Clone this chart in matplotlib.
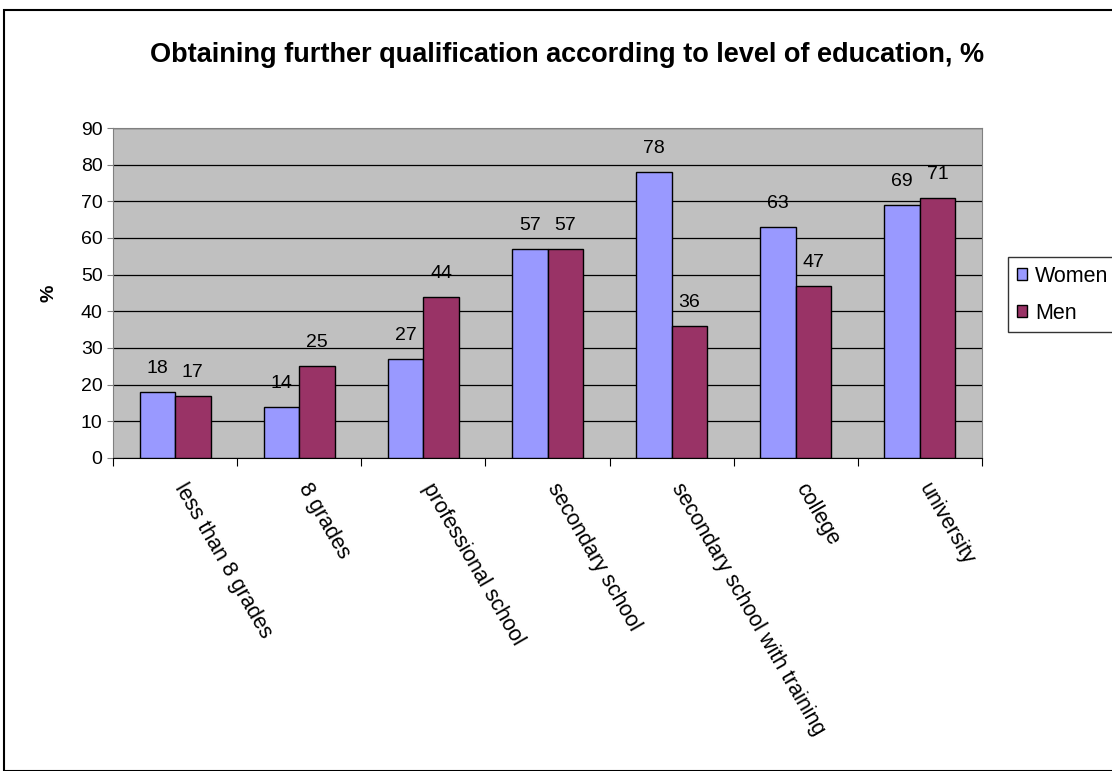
import matplotlib.pyplot as plt
import numpy as np
from matplotlib.patches import Rectangle

plt.rcParams['font.family'] = ['Liberation Sans', 'DejaVu Sans']

# data
levels = ['less than 8 grades', '8 grades', 'professional school',
          'secondary school', 'secondary school with training',
          'college', 'university']
women = [18, 14, 27, 57, 78, 63, 69]
men = [17, 25, 44, 57, 36, 47, 71]

W, H = 1112, 771
fig = plt.figure(figsize=(W / 100, H / 100), dpi=100)

# outer chart border (runs off the right and bottom edges)
fig.patches.append(Rectangle((4 / W, 0), 2, 1 - 10 / H, transform=fig.transFigure,
                             fill=False, edgecolor='black', linewidth=1.5))

ax = fig.add_axes([113 / W, 1 - 458 / H, (982 - 113) / W, (458 - 128) / H])
ax.set_facecolor('#C0C0C0')

x = np.arange(len(levels))
bw = 1 / 3.5
b1 = ax.bar(x - bw / 2, women, bw, color='#9999FF', edgecolor='black',
            linewidth=1, label='Women', zorder=3)
b2 = ax.bar(x + bw / 2, men, bw, color='#993366', edgecolor='black',
            linewidth=1, label='Men', zorder=3)

for bars, vals in ((b1, women), (b2, men)):
    for r, v in zip(bars, vals):
        ax.annotate(str(v), (r.get_x() + r.get_width() / 2, v),
                    xytext=(0, 17), textcoords='offset points',
                    ha='center', va='center', fontsize=14)

ax.set_xlim(-0.5, len(levels) - 0.5)
ax.set_ylim(0, 90)
ax.set_yticks(range(0, 91, 10))
ax.yaxis.grid(True, color='black', linewidth=0.9, zorder=1)
ax.set_axisbelow(True)

ax.set_xticks(np.arange(len(levels) + 1) - 0.5)
ax.set_xticklabels([])
ax.tick_params(axis='x', length=6, direction='out', color='black')
ax.tick_params(axis='y', length=4, direction='out', labelsize=14, color='#808080')

for i, lab in enumerate(levels):
    ax.annotate(lab, (i, 0), xytext=(3, -19), textcoords='offset points',
                rotation=-60, rotation_mode='anchor', ha='left', va='center',
                fontsize=15.5, annotation_clip=False)

for s in ('top', 'right', 'left'):
    ax.spines[s].set_color('#808080')
ax.spines['bottom'].set_color('black')

ax.set_ylabel('%', fontsize=14, fontweight='bold', labelpad=17)

fig.text(567 / W, 1 - 55 / H,
         'Obtaining further qualification according to level of education, %',
         ha='center', va='center', fontsize=19.5, fontweight='bold')

leg = fig.legend(loc='upper left', bbox_to_anchor=(1008 / W, 1 - 257 / H),
                 fontsize=15.5, frameon=True, fancybox=False, edgecolor='black',
                 handlelength=0.5, handleheight=0.5, handletextpad=0.35,
                 borderpad=0.4, labelspacing=0.75, borderaxespad=0)
leg.get_frame().set_linewidth(1)

fig.savefig('out.png', dpi=100)
